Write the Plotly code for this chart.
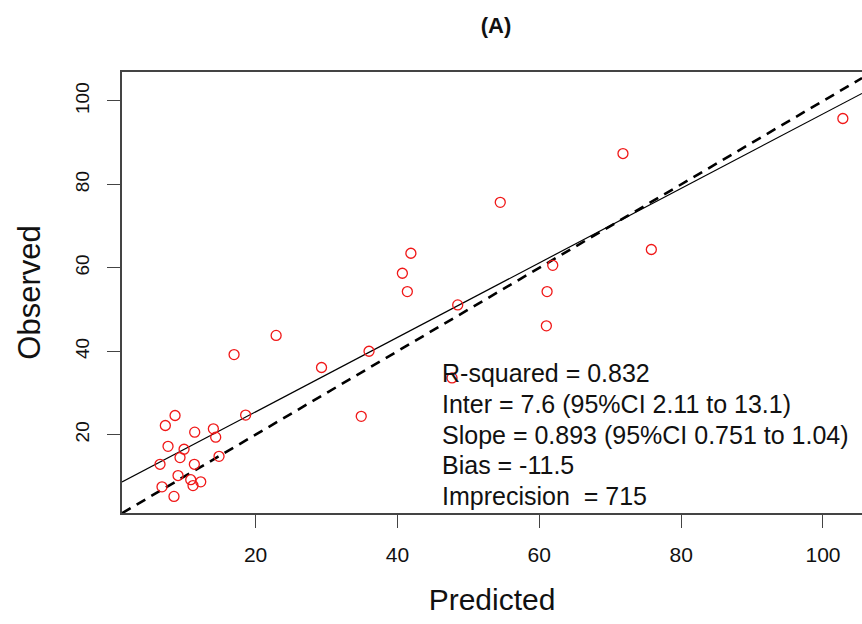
import plotly.graph_objects as go

# Predicted vs observed values
predicted = [16.97, 22.9, 8.65, 7.28, 11.42, 14.05, 14.38, 18.6, 7.66, 9.92,
             9.35, 14.85, 6.53, 11.37, 9.07, 10.86, 11.18, 12.27, 6.81, 8.5,
             29.3, 36.0, 34.9, 47.7, 48.5, 41.9, 40.7, 41.4, 54.5, 71.8,
             61.9, 61.1, 61.0, 75.8, 102.8]
observed = [39.2, 43.8, 24.6, 22.2, 20.6, 21.4, 19.4, 24.7, 17.2, 16.5,
            14.5, 14.8, 12.9, 12.9, 10.2, 9.2, 7.8, 8.7, 7.5, 5.2,
            36.1, 40.0, 24.4, 33.6, 51.1, 63.5, 58.7, 54.3, 75.7, 87.4,
            60.6, 54.3, 46.1, 64.4, 95.8]

# Fit statistics
r_squared = 0.832
intercept = 7.6
intercept_ci = (2.11, 13.1)
slope = 0.893
slope_ci = (0.751, 1.04)
bias = -11.5
imprecision = 715

x_ticks = [20, 40, 60, 80, 100]
y_ticks = [20, 40, 60, 80, 100]
x_range = [1.17, 105.5]
y_range = [1.22, 106.95]

W, H = 862, 624
M_L, M_R, M_T, M_B = 122, 0, 72, 111
plot_h = H - M_T - M_B

fig = go.Figure()

# Regression line
fig.add_trace(go.Scatter(
    x=x_range, y=[intercept + slope * v for v in x_range],
    mode="lines", line=dict(color="black", width=1.2),
    hoverinfo="skip", showlegend=False))

# Identity line
fig.add_trace(go.Scatter(
    x=x_range, y=x_range,
    mode="lines", line=dict(color="black", width=2.6, dash="10px,7px"),
    hoverinfo="skip", showlegend=False))

fig.add_trace(go.Scatter(
    x=predicted, y=observed, mode="markers",
    marker=dict(symbol="circle-open", size=10, color="#f01818",
                line=dict(width=1.3, color="#f01818")),
    showlegend=False))

stats_lines = [
    f"R-squared = {r_squared}",
    f"Inter = {intercept} (95%CI {intercept_ci[0]} to {intercept_ci[1]})",
    f"Slope = {slope} (95%CI {slope_ci[0]} to {slope_ci[1]})",
    f"Bias = {bias}",
    f"Imprecision  = {imprecision}",
]
# Stats block: one annotation per line, fixed pixel spacing
first_line_top_px = 373      # centre of first line, from figure top
line_step_px = 30.75
for i, line in enumerate(stats_lines):
    ypx = first_line_top_px + i * line_step_px
    fig.add_annotation(
        x=45.95, xref="x", xanchor="left",
        y=(H - M_B - ypx) / plot_h, yref="paper", yanchor="middle",
        text=line, showarrow=False, align="left",
        font=dict(family="Liberation Sans, Arial, sans-serif", size=25,
                  color="#111"))

fig.update_layout(
    width=W, height=H,
    margin=dict(l=M_L, r=M_R, t=M_T, b=M_B),
    paper_bgcolor="white", plot_bgcolor="white",
    font=dict(family="Liberation Sans, Arial, sans-serif", color="#111"),
    title=dict(text="<b>(A)</b>", x=496 / W, xref="container",
               xanchor="center", y=1 - 25 / H, yanchor="middle",
               font=dict(size=22, color="#111")),
    xaxis=dict(range=x_range, tickvals=x_ticks, showgrid=False, zeroline=False,
               showline=True, mirror=True, linecolor="#444", linewidth=1.5,
               ticks="outside", ticklen=13, tickwidth=1.3, tickcolor="#444",
               ticklabelstandoff=9,
               tickfont=dict(size=21, color="#111"),
               title=dict(text="Predicted", font=dict(size=30, color="#111"),
                          standoff=24)),
    yaxis=dict(range=y_range, tickvals=y_ticks, showgrid=False, zeroline=False,
               showline=True, mirror=False, linecolor="#444", linewidth=1.5,
               ticks="outside", ticklen=13, tickwidth=1.3, tickcolor="#444",
               tickangle=-90, ticklabelstandoff=11,
               tickfont=dict(size=19, color="#111"),
               title=dict(text="Observed", font=dict(size=31, color="#111"),
                          standoff=22)),
)

fig.write_html("out.html")
